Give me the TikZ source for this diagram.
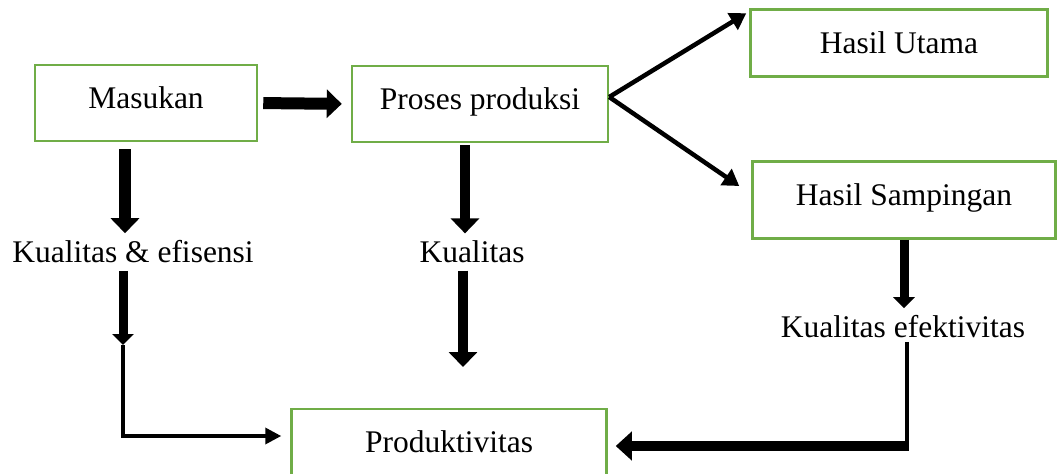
\documentclass[tikz,border=0pt]{standalone}
\usepackage{fontspec}
\setmainfont{Liberation Serif}
\usetikzlibrary{arrows.meta}
\definecolor{boxgreen}{HTML}{70AD47}

\begin{document}
\begin{tikzpicture}[x=1pt, y=-1pt,
    every node/.style={font=\fontsize{31.5}{38}\selectfont},
    box/.style={draw=boxgreen, line width=2.5pt, inner sep=0pt, text height=22pt, text depth=12pt},
    fat/.style={line width=12pt, -{Triangle[width=28pt,length=15pt]}},
    mid/.style={line width=9pt, -{Triangle[width=21pt,length=11pt]}},
    slim/.style={line width=4.5pt, -{Triangle[width=19pt,length=16pt]}},
    hair/.style={line width=3.5pt}]
  \useasboundingbox (0, 0) rectangle (1058, 474);

  % boxes
  \node[box, minimum width=222pt, minimum height=76pt] (masukan) at (146, 103) {Masukan};
  \node[box, minimum width=256pt, minimum height=76pt] (proses) at (480, 104) {Proses produksi};
  \node[box, text depth=1pt, minimum width=297pt, minimum height=67pt] (utama) at (899, 43) {Hasil Utama};
  \node[box, minimum width=303pt, minimum height=77pt] (samping) at (904, 200) {Hasil Sampingan};
  \node[box, minimum width=315pt, minimum height=76pt] (produk) at (449, 447) {Produktivitas};

  % labels
  \node (kef) at (133, 252) {Kualitas \& efisensi};
  \node (kual) at (472, 252) {Kualitas};
  \node (kefk) at (903, 327) {Kualitas efektivitas};

  \coordinate (kefend) at (123, 345);
  \coordinate (kualend) at (463, 367);
  \coordinate (kefkbend) at (907, 446);

  % arrows
  \draw[fat, shorten <=5pt, shorten >=9pt] (masukan.east) -- (proses.west);
  \draw[fat, shorten <=7pt, shorten >=4pt] ([xshift=-21pt]masukan.south) -- ([xshift=-21pt]masukan.south |- kef.north);
  \draw[mid, shorten <=4pt] (kef.south -| kefend) -- (kefend);
  \draw[hair, -{Triangle[width=16pt,length=16pt]}, shorten >=9pt] (kefend) |- ([yshift=11pt]produk.west);

  \draw[fat, line width=10pt, shorten <=2pt, shorten >=4pt] ([xshift=-15pt]proses.south) -- ([xshift=-15pt]proses.south |- kual.north);
  \draw[fat, line width=10pt, shorten <=4pt] (kual.south -| kualend) -- (kualend);

  \draw[slim] ([yshift=7pt]proses.east) -- ([shift={(-3,5)}]utama.north west);
  \draw[slim] ([yshift=7pt]proses.east) -- ([shift={(-12,-14)}]samping.west);

  \draw[mid, shorten >=4pt] (samping.south) -- (samping.south |- kefk.north);
  \draw[hair] (kefk.south -| kefkbend) -- ([yshift=-5pt]kefkbend);
  \draw[line width=10pt, -{Triangle[width=28pt,length=16pt]}, shorten >=8pt] (kefkbend) -- (kefkbend -| produk.east);
\end{tikzpicture}
\end{document}
